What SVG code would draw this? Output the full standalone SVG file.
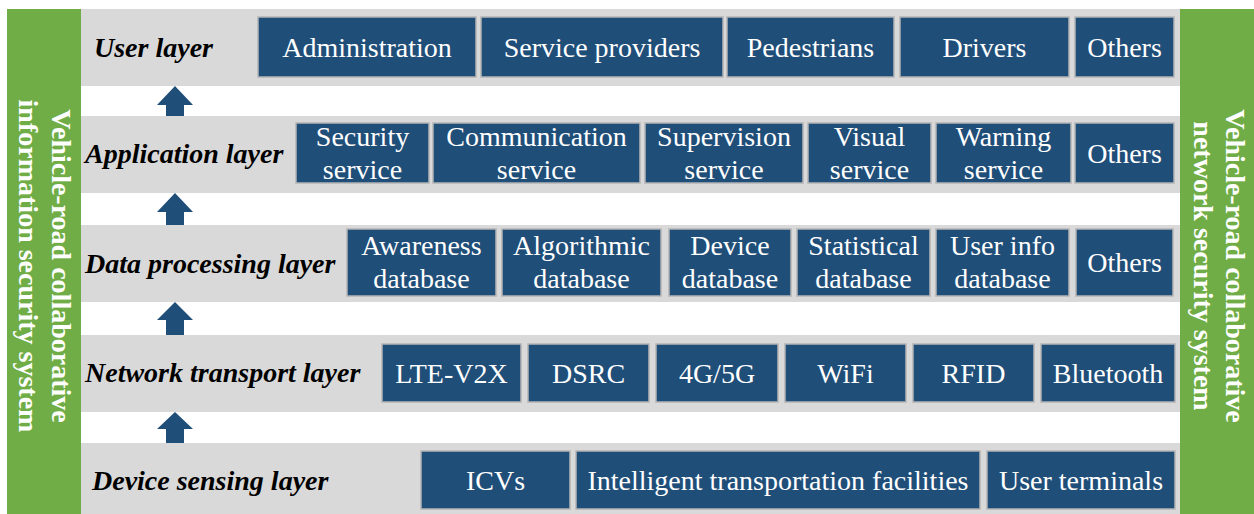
<svg xmlns="http://www.w3.org/2000/svg" width="1254" height="514" viewBox="0 0 1254 514">
<style>
.band{fill:#D9D9D9}
.side{fill:#70AD47}
.box{fill:#1F4E79;stroke:#B4B4B4;stroke-width:1.5}
.bt{fill:#FFFFFF;text-anchor:middle}
.lt{font-weight:bold;font-style:italic;fill:#000000}
.vt{font-weight:bold;fill:#FFFFFF;text-anchor:middle}
.arr{fill:#1F4E79}
</style>
<rect width="1254" height="514" fill="#FFFFFF"/>

<g id="left-system" font-family="Liberation Serif, serif" font-size="28">
<rect class="side" x="7" y="9" width="74" height="505"/>
<text class="vt" transform="translate(52,266) rotate(90)">Vehicle-road collaborative</text>
<text class="vt" transform="translate(19,266) rotate(90)">information security system</text>
</g>
<g id="right-system" font-family="Liberation Serif, serif" font-size="28">
<rect class="side" x="1180" y="9" width="74" height="505"/>
<text class="vt" transform="translate(1226,266) rotate(90)">Vehicle-road collaborative</text>
<text class="vt" transform="translate(1194,266) rotate(90)">network security system</text>
</g>

<g id="user-layer" font-family="Liberation Serif, serif" font-size="28">
<rect class="band" x="81" y="9" width="1099" height="77"/>
<text class="lt" x="94" y="57">User layer</text>
<rect class="box" x="258" y="17" width="218" height="60"/><text class="bt" x="367" y="57">Administration</text>
<rect class="box" x="481" y="17" width="242" height="60"/><text class="bt" x="602" y="57">Service providers</text>
<rect class="box" x="727" y="17" width="167" height="60"/><text class="bt" x="810.5" y="57">Pedestrians</text>
<rect class="box" x="900" y="17" width="169" height="60"/><text class="bt" x="984.5" y="57">Drivers</text>
<rect class="box" x="1075" y="17" width="99" height="60"/><text class="bt" x="1124.5" y="57">Others</text>
</g>

<g id="application-layer" font-family="Liberation Serif, serif" font-size="28">
<rect class="band" x="81" y="116" width="1099" height="77"/>
<text class="lt" x="85" y="163">Application layer</text>
<rect class="box" x="296" y="123" width="133" height="60"/><text class="bt" x="362.5" y="146">Security</text><text class="bt" x="362.5" y="179">service</text>
<rect class="box" x="433" y="123" width="207" height="60"/><text class="bt" x="536.5" y="146">Communication</text><text class="bt" x="536.5" y="179">service</text>
<rect class="box" x="645" y="123" width="158" height="60"/><text class="bt" x="724" y="146">Supervision</text><text class="bt" x="724" y="179">service</text>
<rect class="box" x="808" y="123" width="123" height="60"/><text class="bt" x="869.5" y="146">Visual</text><text class="bt" x="869.5" y="179">service</text>
<rect class="box" x="936" y="123" width="135" height="60"/><text class="bt" x="1003.5" y="146">Warning</text><text class="bt" x="1003.5" y="179">service</text>
<rect class="box" x="1075" y="123" width="99" height="60"/><text class="bt" x="1124.5" y="163">Others</text>
</g>

<g id="data-processing-layer" font-family="Liberation Serif, serif" font-size="28">
<rect class="band" x="81" y="225" width="1099" height="77"/>
<text class="lt" x="85" y="273">Data processing layer</text>
<rect class="box" x="347" y="229" width="149" height="67"/><text class="bt" x="421.5" y="255">Awareness</text><text class="bt" x="421.5" y="288">database</text>
<rect class="box" x="502" y="229" width="159" height="67"/><text class="bt" x="581.5" y="255">Algorithmic</text><text class="bt" x="581.5" y="288">database</text>
<rect class="box" x="669" y="229" width="122" height="67"/><text class="bt" x="730" y="255">Device</text><text class="bt" x="730" y="288">database</text>
<rect class="box" x="797" y="229" width="133" height="67"/><text class="bt" x="863.5" y="255">Statistical</text><text class="bt" x="863.5" y="288">database</text>
<rect class="box" x="936" y="229" width="133" height="67"/><text class="bt" x="1002.5" y="255">User info</text><text class="bt" x="1002.5" y="288">database</text>
<rect class="box" x="1076" y="229" width="97" height="67"/><text class="bt" x="1124.5" y="272">Others</text>
</g>

<g id="network-transport-layer" font-family="Liberation Serif, serif" font-size="28">
<rect class="band" x="81" y="335" width="1099" height="77"/>
<text class="lt" x="85" y="382">Network transport layer</text>
<rect class="box" x="382" y="344" width="139" height="58"/><text class="bt" x="451.5" y="383">LTE-V2X</text>
<rect class="box" x="528" y="344" width="121" height="58"/><text class="bt" x="588.5" y="383">DSRC</text>
<rect class="box" x="656" y="344" width="122" height="58"/><text class="bt" x="717" y="383">4G/5G</text>
<rect class="box" x="785" y="344" width="121" height="58"/><text class="bt" x="845.5" y="383">WiFi</text>
<rect class="box" x="913" y="344" width="121" height="58"/><text class="bt" x="973.5" y="383">RFID</text>
<rect class="box" x="1041" y="344" width="134" height="58"/><text class="bt" x="1108" y="383">Bluetooth</text>
</g>

<g id="device-sensing-layer" font-family="Liberation Serif, serif" font-size="28">
<rect class="band" x="81" y="443" width="1099" height="71"/>
<text class="lt" x="92" y="490">Device sensing layer</text>
<rect class="box" x="421" y="451" width="149" height="58"/><text class="bt" x="495.5" y="490">ICVs</text>
<rect class="box" x="576" y="451" width="404" height="58"/><text class="bt" x="778" y="490">Intelligent transportation facilities</text>
<rect class="box" x="987" y="451" width="188" height="58"/><text class="bt" x="1081" y="490">User terminals</text>
</g>

<g id="connectors">
<polygon class="arr" points="175,86 193,105 184,105 184,116 166,116 166,105 157,105"/>
<polygon class="arr" points="175,193 193,212 184,212 184,225 166,225 166,212 157,212"/>
<polygon class="arr" points="175,302 193,320 184,320 184,335 166,335 166,320 157,320"/>
<polygon class="arr" points="175,412 193,429 184,429 184,443 166,443 166,429 157,429"/>
</g>
</svg>
